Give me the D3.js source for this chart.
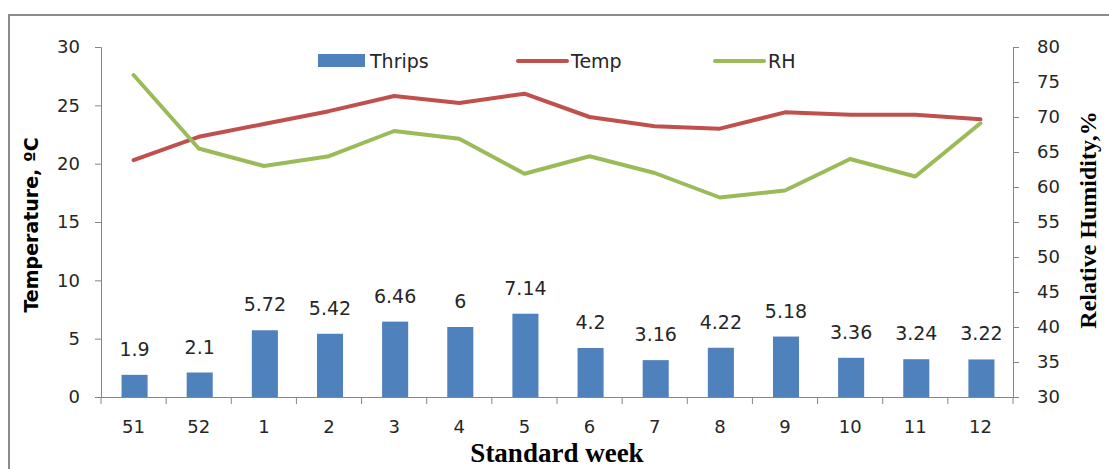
<!DOCTYPE html>
<html>
<head>
<meta charset="utf-8">
<script src="https://cdn.jsdelivr.net/npm/d3@7"></script>
<style>
  body { margin: 0; background: #fff; }
  svg text { font-family: "DejaVu Sans", sans-serif; fill: #262626; }
</style>
</head>
<body>
<svg id="chart" width="1109" height="469"></svg>
<script>
// standard weeks and readings
const weeks = ["51", "52", "1", "2", "3", "4", "5", "6", "7", "8", "9", "10", "11", "12"];
const thrips = [1.9, 2.1, 5.72, 5.42, 6.46, 6, 7.14, 4.2, 3.16, 4.22, 5.18, 3.36, 3.24, 3.22];
const temp = [20.3, 22.3, 23.4, 24.5, 25.8, 25.2, 26.0, 24.0, 23.2, 23.0, 24.4, 24.2, 24.2, 23.8];
const rh = [76.0, 65.5, 63.0, 64.4, 68.0, 66.9, 61.9, 64.4, 62.0, 58.5, 59.5, 64.0, 61.5, 69.1];
const leftTicks = [0, 5, 10, 15, 20, 25, 30];
const rightTicks = [30, 35, 40, 45, 50, 55, 60, 65, 70, 75, 80];

const svg = d3.select("#chart");
const margin = { left: 101, right: 96, top: 47, bottom: 72 };
const width = 1109, height = 469;
const axisColor = "#868686";

// frame around the chart
svg.append("path")
    .attr("d", `M9,469 V15 H1109`)
    .attr("fill", "none")
    .attr("stroke", "#8c8c8c")
    .attr("stroke-width", 2);

const x = d3.scaleBand()
    .domain(weeks)
    .range([margin.left, width - margin.right]);

const yLeft = d3.scaleLinear().domain([0, 30]).range([height - margin.bottom, margin.top]);
const yRight = d3.scaleLinear().domain([30, 80]).range([height - margin.bottom, margin.top]);

// left axis
const gl = svg.append("g")
    .attr("transform", `translate(${margin.left},0)`)
    .call(d3.axisLeft(yLeft).tickValues(leftTicks).tickSize(6).tickPadding(15));
gl.selectAll("text").style("font-size", "18px");

// right axis
const gr = svg.append("g")
    .attr("transform", `translate(${width - margin.right},0)`)
    .call(d3.axisRight(yRight).tickValues(rightTicks).tickSize(6).tickPadding(18));
gr.selectAll("text").style("font-size", "18px");

// bottom axis, ticks between categories
const gb = svg.append("g")
    .attr("transform", `translate(0,${height - margin.bottom})`)
    .call(d3.axisBottom(x).tickSize(0).tickPadding(23));
gb.selectAll("text").style("font-size", "18px");
gb.selectAll(".tick-sep")
    .data(weeks.concat(["end"]))
    .join("line")
    .attr("class", "tick-sep")
    .attr("x1", (d, i) => margin.left + i * x.step())
    .attr("x2", (d, i) => margin.left + i * x.step())
    .attr("y1", 0)
    .attr("y2", 7)
    .attr("stroke", axisColor);

svg.selectAll(".domain, .tick line").attr("stroke", axisColor);

const cx = i => x(weeks[i]) + x.bandwidth() / 2;
const barW = x.step() * 0.4;

// bars
svg.append("g").selectAll("rect")
    .data(thrips)
    .join("rect")
    .attr("x", (d, i) => cx(i) - barW / 2 + 1)
    .attr("y", d => yLeft(d))
    .attr("width", barW)
    .attr("height", d => yLeft(0) - yLeft(d))
    .attr("fill", "#4F81BD");

// bar labels
svg.append("g").selectAll("text")
    .data(thrips)
    .join("text")
    .attr("x", (d, i) => cx(i) + 1)
    .attr("y", d => yLeft(d) - 19)
    .attr("text-anchor", "middle")
    .style("font-size", "19px")
    .text(d => d);

const tempLine = d3.line().x((d, i) => cx(i)).y(d => yLeft(d));
const rhLine = d3.line().x((d, i) => cx(i)).y(d => yRight(d));

svg.append("path")
    .datum(temp)
    .attr("d", tempLine)
    .attr("fill", "none")
    .attr("stroke", "#C0504D")
    .attr("stroke-width", 4)
    .attr("stroke-linejoin", "round")
    .attr("stroke-linecap", "round");

svg.append("path")
    .datum(rh)
    .attr("d", rhLine)
    .attr("fill", "none")
    .attr("stroke", "#9BBB59")
    .attr("stroke-width", 4)
    .attr("stroke-linejoin", "round")
    .attr("stroke-linecap", "round");

// legend
const legend = svg.append("g");
legend.append("rect")
    .attr("x", 318).attr("y", 54).attr("width", 47).attr("height", 13)
    .attr("fill", "#4F81BD");
legend.append("text").attr("x", 370).attr("y", 68).style("font-size", "19px").text("Thrips");
legend.append("line")
    .attr("x1", 518).attr("x2", 567).attr("y1", 61).attr("y2", 61)
    .attr("stroke", "#C0504D").attr("stroke-width", 4).attr("stroke-linecap", "round");
legend.append("text").attr("x", 571).attr("y", 68).style("font-size", "19px").text("Temp");
legend.append("line")
    .attr("x1", 715).attr("x2", 764).attr("y1", 61).attr("y2", 61)
    .attr("stroke", "#9BBB59").attr("stroke-width", 4).attr("stroke-linecap", "round");
legend.append("text").attr("x", 768).attr("y", 68).style("font-size", "19px").text("RH");

// axis titles
svg.append("text")
    .attr("transform", "translate(38,225) rotate(-90)")
    .attr("text-anchor", "middle")
    .style("font-size", "19px")
    .style("font-weight", "bold")
    .style("fill", "#000")
    .text("Temperature, ºC");

svg.append("text")
    .attr("transform", "translate(1096,220) rotate(-90)")
    .attr("text-anchor", "middle")
    .style("font-family", "'Liberation Serif', serif")
    .style("font-size", "24px")
    .style("font-weight", "bold")
    .style("fill", "#000")
    .text("Relative Humidity,%");

svg.append("text")
    .attr("x", 557)
    .attr("y", 462)
    .attr("text-anchor", "middle")
    .style("font-family", "'Liberation Serif', serif")
    .style("font-size", "27px")
    .style("font-weight", "bold")
    .style("fill", "#000")
    .text("Standard week");
</script>
</body>
</html>
